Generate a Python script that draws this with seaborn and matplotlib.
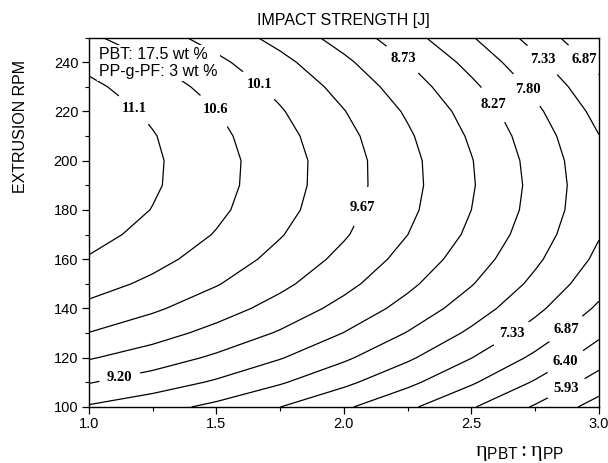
import matplotlib
matplotlib.use("Agg")
import matplotlib.pyplot as plt
from matplotlib.ticker import MultipleLocator, FormatStrFormatter
import seaborn as sns

# viscosity ratio (x) and extrusion rpm (y) of the grid
ratio = [1.0, 1.25, 1.5, 1.75, 2.0, 2.25, 2.5, 2.75, 3.0]
rpm = [100, 110, 120, 130, 140, 150, 160, 170, 180, 190, 200, 210, 220, 230, 240, 250]

# impact strength [J], one row per rpm value
impact = [
    [8.68, 8.44, 8.15, 7.80, 7.40, 6.95, 6.44, 5.88, 5.26],
    [9.22, 8.97, 8.67, 8.31, 7.90, 7.44, 6.92, 6.35, 5.73],
    [9.70, 9.44, 9.12, 8.76, 8.34, 7.87, 7.34, 6.77, 6.14],
    [10.12, 9.85, 9.52, 9.15, 8.72, 8.24, 7.71, 7.13, 6.49],
    [10.48, 10.20, 9.87, 9.49, 9.05, 8.57, 8.03, 7.44, 6.79],
    [10.79, 10.50, 10.16, 9.77, 9.33, 8.83, 8.29, 7.69, 7.04],
    [11.03, 10.74, 10.39, 9.99, 9.54, 9.04, 8.49, 7.88, 7.23],
    [11.22, 10.92, 10.57, 10.16, 9.71, 9.20, 8.64, 8.02, 7.36],
    [11.36, 11.05, 10.69, 10.28, 9.81, 9.30, 8.73, 8.11, 7.44],
    [11.43, 11.12, 10.75, 10.33, 9.86, 9.34, 8.77, 8.14, 7.46],
    [11.45, 11.13, 10.76, 10.34, 9.86, 9.33, 8.75, 8.11, 7.43],
    [11.41, 11.09, 10.71, 10.28, 9.80, 9.26, 8.67, 8.03, 7.34],
    [11.31, 10.99, 10.61, 10.17, 9.68, 9.14, 8.55, 7.89, 7.19],
    [11.16, 10.83, 10.44, 10.01, 9.51, 8.96, 8.36, 7.70, 6.99],
    [10.94, 10.61, 10.23, 9.79, 9.29, 8.73, 8.12, 7.45, 6.73],
    [10.67, 10.34, 9.95, 9.51, 9.01, 8.44, 7.83, 7.15, 6.42],
]

# contour levels and the text printed on them
levels = [5.463, 5.930, 6.397, 6.863, 7.330, 7.797, 8.263, 8.730,
          9.197, 9.663, 10.130, 10.597, 11.063]
level_text = ["5.47", "5.93", "6.40", "6.87", "7.33", "7.80", "8.27", "8.73",
              "9.20", "9.67", "10.1", "10.6", "11.1"]

sns.set_style("ticks")
plt.rcParams['font.family'] = ['Liberation Sans', 'DejaVu Sans']
plt.rcParams['text.color'] = 'black'
plt.rcParams['axes.labelcolor'] = 'black'
plt.rcParams['xtick.color'] = 'black'
plt.rcParams['ytick.color'] = 'black'
plt.rcParams['mathtext.fontset'] = 'custom'
plt.rcParams['mathtext.rm'] = 'Liberation Serif'
plt.rcParams['mathtext.sf'] = 'Liberation Sans'
plt.rcParams['mathtext.it'] = 'Liberation Serif:italic'

fig, ax = plt.subplots(figsize=(6.08, 4.63), dpi=100)
fig.subplots_adjust(left=0.146, right=0.985, bottom=0.121, top=0.919)

cs = ax.contour(ratio, rpm, impact, levels=levels, colors="black",
                linewidths=0.9)

# where the labels sit (data coords); the lowest level stays unlabelled
label_spots = [
    (1.18, 221), (1.50, 221), (1.67, 231), (2.08, 181), (1.12, 113),
    (2.23, 241), (2.59, 223), (2.72, 229), (2.78, 241), (2.94, 241),
    (2.65, 131), (2.86, 133), (2.86, 120), (2.86, 110),
]
fmt = dict(zip(levels, level_text))
with plt.rc_context({'font.family': 'Liberation Serif', 'font.weight': 'bold'}):
    texts = ax.clabel(cs, levels=levels, fmt=fmt, fontsize=10.5,
                      inline=True, inline_spacing=8, manual=label_spots)
for t in texts:
    t.set_rotation(0)
    t.set_color('black')

ax.set_xlim(1.0, 3.0)
ax.set_ylim(100, 250)
ax.set_xticks([1.0, 1.5, 2.0, 2.5, 3.0])
ax.set_yticks(range(100, 250, 20))
ax.xaxis.set_major_formatter(FormatStrFormatter('%.1f'))
ax.xaxis.set_minor_locator(MultipleLocator(0.25))
ax.yaxis.set_minor_locator(MultipleLocator(10))
ax.tick_params(which='major', direction='out', length=5, width=0.9,
               labelsize=10.5, pad=2.5, colors='black')
ax.tick_params(which='minor', direction='out', length=3, width=0.8)
for sp in ax.spines.values():
    sp.set_linewidth(1.0)
    sp.set_color('black')

ax.set_title("IMPACT STRENGTH [J]", fontsize=11.5, pad=9)
ax.set_ylabel("EXTRUSION RPM", fontsize=11.5)
ax.yaxis.set_label_coords(-0.12, 0.76)
ax.set_xlabel(r'$\mathrm{\eta}_{\mathsf{PBT}}\mathrm{:}\mathrm{\eta}_{\mathsf{PP}}$',
              fontsize=16)
ax.xaxis.set_label_coords(0.845, -0.095)

ax.text(0.02, 0.975, "PBT: 17.5 wt %\nPP-g-PF: 3 wt %", transform=ax.transAxes,
        ha='left', va='top', fontsize=11.5, linespacing=1.15, zorder=5,
        bbox=dict(facecolor='white', edgecolor='none', pad=1.5))

fig.savefig("out.png", dpi=100)
